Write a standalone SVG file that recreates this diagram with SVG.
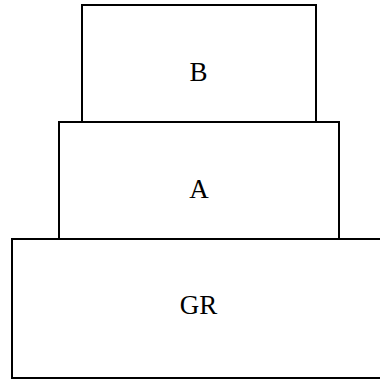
<svg xmlns="http://www.w3.org/2000/svg" width="380" height="381" viewBox="0 0 380 381">
<style>
rect{fill:#fff;stroke:#000;stroke-width:2}
text{font-family:"Liberation Serif",serif;font-size:27px;text-anchor:middle;fill:#000}
</style>
<rect x="0" y="0" width="380" height="381" style="fill:#fff;stroke:none"/>
<g id="GR"><rect x="12" y="239" width="372" height="139"/><text x="198.5" y="314">GR</text></g>
<g id="A"><rect x="59" y="122" width="280" height="117"/><text x="199" y="198">A</text></g>
<g id="B"><rect x="82" y="5" width="234" height="117"/><text x="198.5" y="81">B</text></g>
<g id="connectors"></g>
</svg>
